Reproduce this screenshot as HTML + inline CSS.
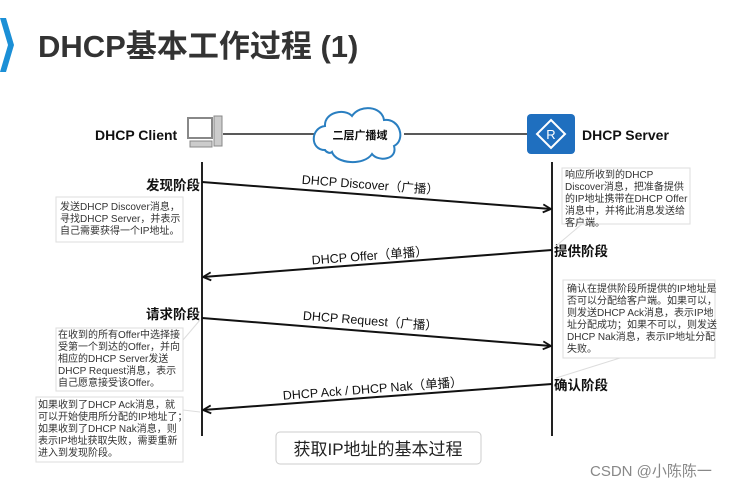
<!DOCTYPE html>
<html><head><meta charset="utf-8"><style>
html,body{margin:0;padding:0;background:#fff;}
svg{display:block;font-family:"Liberation Sans","Noto Sans CJK SC",sans-serif;}
.b{font-weight:bold;}
.note{font-size:10px;fill:#333;}
</style></head><body>
<svg width="742" height="488" viewBox="0 0 742 488" xmlns="http://www.w3.org/2000/svg">
<defs><marker id="ah" markerWidth="10" markerHeight="10" refX="9" refY="5" orient="auto" markerUnits="userSpaceOnUse"><path d="M1,1 L9,5 L1,9" fill="none" stroke="#111" stroke-width="1.8"/></marker></defs>
<path d="M0,18 L6,18 L14,45 L6,72 L0,72 L8,45 Z" fill="#1b8fd6"/>
<text x="38" y="57" font-size="31" class="b" fill="#333">DHCP基本工作过程 (1)</text>
<text x="95" y="140" font-size="14" class="b" fill="#111">DHCP Client</text>
<rect x="188" y="118" width="24" height="20" fill="#fff" stroke="#888" stroke-width="2"/>
<rect x="214" y="116" width="8" height="30" fill="#ccc" stroke="#888"/>
<rect x="190" y="141" width="22" height="6" fill="#ccc" stroke="#888"/>
<line x1="223" y1="134" x2="318" y2="134" stroke="#222" stroke-width="1.5"/>
<line x1="404" y1="134" x2="528" y2="134" stroke="#222" stroke-width="1.5"/>
<path d="M325,150 C310,150 310,128 325,126 C324,112 345,108 352,116 C360,104 382,106 384,120 C400,118 406,140 394,146 C398,160 378,162 372,154 C364,166 336,164 332,152 C330,154 326,152 325,150 Z" fill="#fff" stroke="#2a7fc1" stroke-width="2"/>
<text x="360" y="139" font-size="11" class="b" text-anchor="middle" fill="#111">二层广播域</text>
<rect x="527" y="114" width="48" height="40" rx="4" fill="#1f6fbf"/>
<path d="M551,120 L565,134 L551,148 L537,134 Z" fill="none" stroke="#fff" stroke-width="2"/>
<text x="551" y="139" font-size="13" fill="#fff" text-anchor="middle">R</text>
<text x="582" y="140" font-size="14" class="b" fill="#111">DHCP Server</text>
<line x1="202" y1="162" x2="202" y2="436" stroke="#222" stroke-width="2"/>
<line x1="552" y1="162" x2="552" y2="436" stroke="#222" stroke-width="2"/>
<line x1="202" y1="182" x2="551" y2="209" stroke="#111" stroke-width="2" marker-end="url(#ah)"/>
<line x1="552" y1="250" x2="203" y2="277" stroke="#111" stroke-width="2" marker-end="url(#ah)"/>
<line x1="202" y1="318" x2="551" y2="346" stroke="#111" stroke-width="2" marker-end="url(#ah)"/>
<line x1="552" y1="384" x2="203" y2="410" stroke="#111" stroke-width="2" marker-end="url(#ah)"/>
<text x="370" y="189" font-size="12.5" fill="#111" text-anchor="middle" transform="rotate(4.4 370 189)">DHCP Discover（广播）</text>
<text x="370" y="260" font-size="12.5" fill="#111" text-anchor="middle" transform="rotate(-4.4 370 260)">DHCP Offer（单播）</text>
<text x="370" y="325" font-size="12.5" fill="#111" text-anchor="middle" transform="rotate(4.5 370 325)">DHCP Request（广播）</text>
<text x="373" y="393" font-size="12.5" fill="#111" text-anchor="middle" transform="rotate(-4.3 373 393)">DHCP Ack / DHCP Nak（单播）</text>
<text x="200" y="190" font-size="13.5" class="b" text-anchor="end" fill="#111">发现阶段</text>
<text x="554" y="256" font-size="13.5" class="b" fill="#111">提供阶段</text>
<text x="200" y="319" font-size="13.5" class="b" text-anchor="end" fill="#111">请求阶段</text>
<text x="554" y="390" font-size="13.5" class="b" fill="#111">确认阶段</text>
<g fill="#fff" stroke="#ddd" stroke-width="1">
<rect x="56" y="197" width="127" height="45"/>
<rect x="562" y="168" width="128" height="56"/>
<rect x="563" y="280" width="152" height="78"/>
<rect x="56" y="328" width="127" height="63"/>
<rect x="36" y="397" width="147" height="65"/>
<rect x="276" y="432" width="205" height="32" rx="4" stroke="#ccc"/>
</g>
<g stroke="#ddd" fill="none"><path d="M582,224 L556,246"/><path d="M620,358 L556,378"/><path d="M183,340 L200,320"/><path d="M183,410 L200,412"/></g>
<g class="note">
<text x="60" y="210">发送DHCP Discover消息，</text><text x="60" y="222">寻找DHCP Server，并表示</text><text x="60" y="234">自己需要获得一个IP地址。</text>
<text x="565" y="178">响应所收到的DHCP</text><text x="565" y="190">Discover消息，把准备提供</text><text x="565" y="202">的IP地址携带在DHCP Offer</text><text x="565" y="214">消息中，并将此消息发送给</text><text x="565" y="226">客户端。</text>
<text x="567" y="292">确认在提供阶段所提供的IP地址是</text><text x="567" y="304">否可以分配给客户端。如果可以，</text><text x="567" y="316">则发送DHCP Ack消息，表示IP地</text><text x="567" y="328">址分配成功；如果不可以，则发送</text><text x="567" y="340">DHCP Nak消息，表示IP地址分配</text><text x="567" y="352">失败。</text>
<text x="58" y="338">在收到的所有Offer中选择接</text><text x="58" y="350">受第一个到达的Offer，并向</text><text x="58" y="362">相应的DHCP Server发送</text><text x="58" y="374">DHCP Request消息，表示</text><text x="58" y="386">自己愿意接受该Offer。</text>
<text x="38" y="408">如果收到了DHCP Ack消息，就</text><text x="38" y="420">可以开始使用所分配的IP地址了；</text><text x="38" y="432">如果收到了DHCP Nak消息，则</text><text x="38" y="444">表示IP地址获取失败，需要重新</text><text x="38" y="456">进入到发现阶段。</text>
</g>
<text x="378" y="455" font-size="17" text-anchor="middle" fill="#222">获取IP地址的基本过程</text>
<text x="590" y="476" font-size="15" fill="#888">CSDN @小陈陈一</text>
</svg>
</body></html>
